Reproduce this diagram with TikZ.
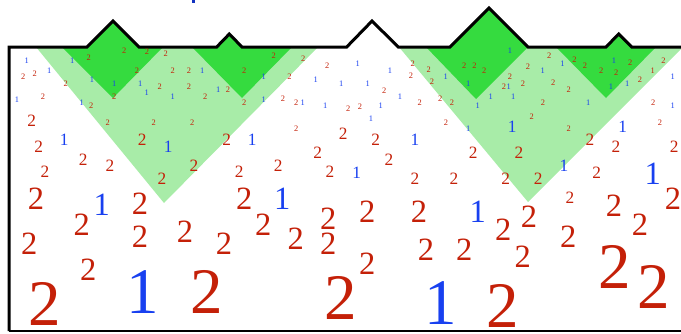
\documentclass[tikz,border=0pt]{standalone}
\usepackage{fontspec}
\setmainfont{Liberation Serif}
\definecolor{digred}{HTML}{C42008}
\definecolor{digblue}{HTML}{1840F0}
\definecolor{lightgrn}{HTML}{A8ECA8}
\definecolor{darkgrn}{HTML}{35DB3F}

\begin{document}
\begin{tikzpicture}[x=1pt,y=-1pt,
  two/.style={text=digred,inner sep=0pt},
  one/.style={text=digblue,inner sep=0pt},
  szA/.style={font=\fontsize{8.4}{9}\selectfont},
  szB/.style={font=\fontsize{17.3}{18}\selectfont},
  szC/.style={font=\fontsize{32.5}{33}\selectfont},
  szD/.style={font=\fontsize{65}{66}\selectfont}]
\useasboundingbox (0,0) rectangle (681,333);
\fill[lightgrn] (36,47) -- (318,47) -- (164,203) -- cycle;
\fill[lightgrn] (399,47) -- (683,47) -- (528,202) -- cycle;
\fill[darkgrn] (62,47) -- (87,47) -- (113,21) -- (139,47) -- (163,47) -- (113,98) -- cycle;
\fill[darkgrn] (192,47) -- (216.7,47) -- (229.3,34) -- (242,47) -- (292,47) -- (242,98) -- cycle;
\fill[darkgrn] (426,47) -- (450,47) -- (489,8) -- (528,47) -- (476,99) -- cycle;
\fill[darkgrn] (556,47) -- (606,47) -- (618.7,34) -- (631.7,47) -- (656,47) -- (606,98) -- cycle;
\draw[line width=3pt] (9,331) -- (9,47) -- (87,47) -- (113,21) -- (139,47) -- (216.7,47) -- (229.3,34) -- (242,47)
  -- (346.7,47) -- (372,21) -- (398.3,47) -- (450,47) -- (489,8) -- (528,47) -- (606,47) -- (618.7,34) -- (631.7,47) -- (683,47);
\draw[line width=1.6pt] (9,331) -- (683,331);
\fill[digblue!80!black] (191.5,-1) rectangle (195,3.3);
% tiny digits
\foreach \x/\y [count=\i] in {88.7/57.7,124.3/51,147/51.5,165.7/53.5,34.7/74,23.3/77,137/71,65.7/84,159.7/87,43/97,
  114.3/97,91.3/106,107.7/122.7,153.7/122.7,273.7/56,303.3/58.3,327.3/65.7,172.7/70.7,189/70.7,244.3/70.7,
  289.5/77,189/87,228/89.7,205.3/97,244.3/102.7,283/99,296.3/102.7,192.3/122.7,296.3/128.3,
  348.3/108.5,360/106.7,419.7/102.7,452/102.7,446/122.7,531.7/116.7,568.7/128.3,660/122.7,543/102.7,653.3/102.7,
  412.7/63.3,428.7/69.7,464.2/65.7,474.5/65.7,484.3/70.7,411/76,432/81.7,504/87.2,384.2/90.5,440.3/99,
  549.3/55.8,574.5/60,585/65.7,601.2/70.8,616.2/72.8,630.2/62.5,663.5/60.8,528/67,510/77.2,523/83.8,553.3/82.7,
  568.7/89.6,640/79.6}
  \node[two,szA] (ta\i) at (\x,\y) {2};
\foreach \x/\y [count=\i] in {26.7/61,72.3/61,49.3/71,92/80,114.3/84,140.3/84,146.7/93,17/100,81.7/102.7,
  202.3/70.7,263.8/77,315.7/80,218.3/90,172.7/97,263.8/100,302.7/102.7,325.2/106,
  357.7/63.5,390/70.8,341.3/84,367.7/84,445.7/77,468.3/84,400/97,490.8/97,477.7/106,380.7/106,371/118.7,468.3/128.5,
  510/51,562.5/64,614/61,542.7/70.8,672.7/77,611/87,627.3/84,513.3/97,588.3/102.7,672.7/106,508.8/87.2}
  \node[one,szA] (oa\i) at (\x,\y) {1};
\node[two,szA] (oared) at (652.8,71) {1};
% small digits
\foreach \x/\y [count=\i] in {31.7/121,142.3/139.3,38.7/146.7,226.7/139.3,317.7/152.3,83.3/159.3,110/165.3,
  194/165.3,278.3/165.3,45/172,239.3/172,330/172,162/178.3,343.3/133.3,375.7/139.3,590/139.3,616/146.7,
  674.3/146.7,389/159.3,473.3/152.3,519/152.3,415/178.3,454/178.3,505.7/178.3,538.3/178.3,596.7/172.3,570/197.3}
  \node[two,szB] (tb\i) at (\x,\y) {2};
\foreach \x/\y [count=\i] in {64.3/139.3,168.3/146.7,252.3/139.3,415/139.3,512.3/126.5,622.7/126.5,356.7/172.3,564/165.7}
  \node[one,szB] (ob\i) at (\x,\y) {1};
% medium digits
\foreach \x/\y [count=\i] in {36/199,140/203.3,244.3/199,81.7/225,29.3/243.3,140/236.7,185/231.7,224/243.3,
  263.3/225,295.7/238.3,328.3/218.3,328.3/243.3,88.3/270,367.3/212,419/211.7,503.3/230,529/216.7,614/205.5,
  673/199,640/225,568.3/236.7,426/250,464.3/250,522.7/256.7,367.3/263.3}
  \node[two,szC] (tc\i) at (\x,\y) {2};
\foreach \x/\y [count=\i] in {101.7/204.3,282.3/199,477.7/211.7,652.7/173.3}
  \node[one,szC] (oc\i) at (\x,\y) {1};
% large digits
\foreach \x/\y [count=\i] in {44.3/303.5,206.7/291.7,341/298,502.3/306.3,615/266.7,653.3/286.7}
  \node[two,szD] (td\i) at (\x,\y) {2};
\foreach \x/\y [count=\i] in {142.7/291.7,441/303}
  \node[one,szD] (od\i) at (\x,\y) {1};
\end{tikzpicture}
\end{document}
